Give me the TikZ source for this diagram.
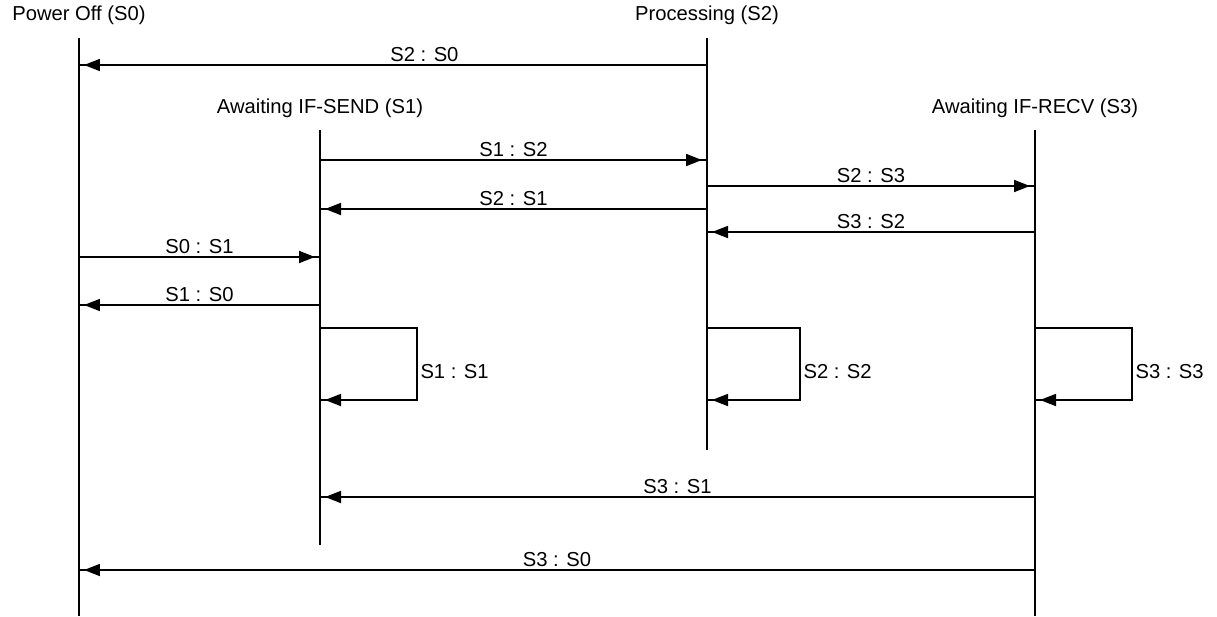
\documentclass[tikz,border=0pt]{standalone}
\usepackage{fontspec}
\setmainfont{Liberation Sans}
\usetikzlibrary{arrows.meta, decorations.markings}

\begin{document}
\begin{tikzpicture}[
  x=0.02cm, y=-0.02cm,
  font=\fontsize{11.5}{13}\selectfont,
  line width=1pt,
  state/.style={inner sep=1pt},
  msg/.style={postaction={decorate},
              decoration={markings,
                mark=at position -1mm with {\arrow{Triangle[length=3.2mm, width=2.4mm]}}}},
  lbl/.style={above, inner sep=1.5pt},
  looplbl/.style={right, inner sep=1.5pt}
]
\useasboundingbox (0,0) rectangle (1217,616);

% states
\node[state] (s0) at (79,15)   {Power Off (S0)};
\node[state] (s2) at (707,15)  {Processing (S2)};
\node[state] (s1) at (320,108) {Awaiting IF-SEND (S1)};
\node[state] (s3) at (1035,108) {Awaiting IF-RECV (S3)};

% lifelines
\foreach \n/\x/\t/\b in {s0/79/38/616, s2/707/38/450, s1/320/130/545, s3/1035/130/616} {
  \coordinate (\n top) at (\x,\t);
  \coordinate (\n bot) at (\x,\b);
  \draw (\n top) -- (\n bot);
}

% transitions
\draw[msg] (s2top |- 0,65) -- node[lbl, pos=0.45] {S2 : S0} (s0top |- 0,65);
\foreach \a/\b/\y/\t in {s1/s2/160/{S1 : S2}, s2/s3/186/{S2 : S3}, s2/s1/209/{S2 : S1},
                         s3/s2/232/{S3 : S2}, s0/s1/257/{S0 : S1}, s1/s0/305/{S1 : S0},
                         s3/s1/497/{S3 : S1}, s3/s0/570/{S3 : S0}}
  \draw[msg] (\a top |- 0,\y) -- node[lbl] {\t} (\b top |- 0,\y);

% self transitions
\foreach \n/\w/\t in {s1/97/{S1 : S1}, s2/93/{S2 : S2}, s3/97/{S3 : S3}}
  \draw[msg] (\n top |- 0,328) -- ++(\w,0) -- node[looplbl, pos=0.6] {\t} ++(0,72) -- ++(-\w,0);
\end{tikzpicture}
\end{document}
